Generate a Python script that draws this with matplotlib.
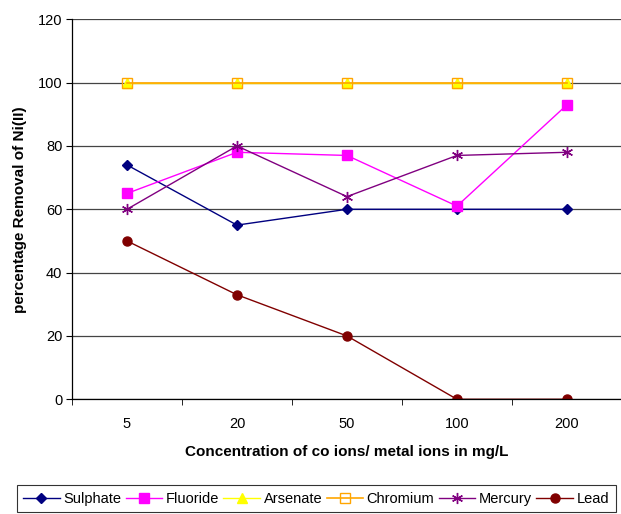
import numpy as np
import matplotlib.pyplot as plt

plt.rcParams['font.family'] = ['Liberation Sans', 'DejaVu Sans']

categories = ['5', '20', '50', '100', '200']
sulphate = [74, 55, 60, 60, 60]
fluoride = [65, 78, 77, 61, 93]
arsenate = [100, 100, 100, 100, 100]
chromium = [100, 100, 100, 100, 100]
mercury = [60, 80, 64, 77, 78]
lead = [50, 33, 20, 0, 0]

fig = plt.figure(figsize=(6.21, 5.14), dpi=100)
ax = fig.add_axes([0.1159, 0.2232, 0.8857, 0.7393])

x = np.arange(len(categories))

ax.plot(x, sulphate, color='#000080', marker='D', markersize=5, lw=1, label='Sulphate')
ax.plot(x, fluoride, color='#FF00FF', marker='s', markersize=7, lw=1, label='Fluoride')
ax.plot(x, arsenate, color='#FFFF00', marker='^', markersize=7, lw=1, label='Arsenate')
ax.plot(x, chromium, color='#FFA500', marker='s', markersize=7, lw=1.2,
        markerfacecolor='none', markeredgecolor='#FFA500', label='Chromium')
ax.plot(x, mercury, color='#800080', marker=(6, 2, 0), markersize=8, lw=1, label='Mercury')
ax.plot(x, lead, color='#800000', marker='o', markersize=6.5, lw=1, label='Lead')

ax.set_xlim(-0.5, len(categories) - 0.5)
ax.set_ylim(0, 120)
ax.set_yticks(np.arange(0, 121, 20))
ax.yaxis.grid(True, color='#444444', lw=0.9)
ax.set_axisbelow(True)

# category labels centred, tick marks between categories
ax.set_xticks(x)
ax.set_xticklabels(categories, fontsize=10.5)
ax.tick_params(axis='x', length=0, pad=13)
ax.set_xticks(np.arange(-0.5, len(categories), 1), minor=True)
ax.tick_params(axis='x', which='minor', length=4, direction='out')
ax.tick_params(axis='y', labelsize=10.5, length=4, direction='out', pad=3)

ax.spines['top'].set_visible(False)
ax.spines['right'].set_visible(False)
ax.spines['bottom'].set_linewidth(0.9)
ax.spines['left'].set_linewidth(0.9)

ax.set_xlabel('Concentration of co ions/ metal ions in mg/L', fontsize=11,
              fontweight='bold', labelpad=10)
ax.set_ylabel('percentage Removal of Ni(II)', fontsize=11, fontweight='bold', labelpad=8)

leg = fig.legend(loc='lower center', bbox_to_anchor=(0.509, -0.011), ncol=6, fontsize=10.5,
                 frameon=True, fancybox=False, edgecolor='black', handlelength=2.5,
                 handletextpad=0.25, columnspacing=0.3, borderpad=0.45)
leg.get_frame().set_linewidth(0.8)

fig.savefig('out.png', dpi=100)
